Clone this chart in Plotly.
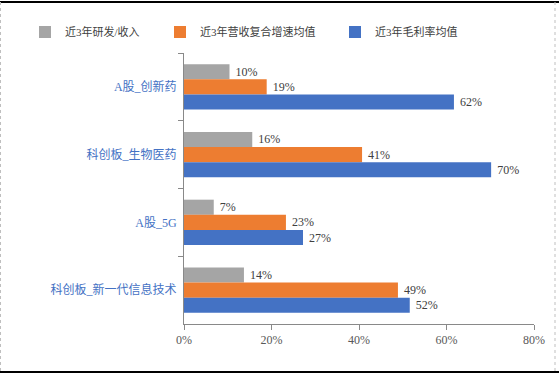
import plotly.graph_objects as go

categories = ["A股_创新药", "科创板_生物医药", "A股_5G", "科创板_新一代信息技术"]
series_names = ["近3年研发/收入", "近3年营收复合增速均值", "近3年毛利率均值"]
rd_ratio = [0.104, 0.156, 0.068, 0.137]
revenue_cagr = [0.189, 0.407, 0.233, 0.489]
gross_margin = [0.617, 0.702, 0.272, 0.516]
x_ticks = [0, 0.2, 0.4, 0.6, 0.8]
x_tick_labels = ["0%", "20%", "40%", "60%", "80%"]

colors = ["#A5A5A5", "#ED7D31", "#4472C4"]
serif = "Liberation Serif, Noto Sans CJK SC, serif"

L, R, T, B = 184, 25, 53, 52
W, H = 559, 376
pw, ph = W - L - R, H - T - B

def px(x):
    return (x - L) / pw

def py(y):
    return (H - B - y) / ph

legend_ids = ["legend", "legend2", "legend3"]
legend_x = [25, 160, 335]

fig = go.Figure()
for name, vals, col, lid in zip(series_names, [rd_ratio, revenue_cagr, gross_margin], colors, legend_ids):
    fig.add_trace(go.Bar(
        y=categories, x=vals, name=name, orientation="h", legend=lid,
        marker=dict(color=col, line=dict(width=0)),
        text=[" " + f"{round(v*100)}%" for v in vals],
        textposition="outside", cliponaxis=False,
        textfont=dict(family=serif, size=12, color="#404040"),
    ))

legend_common = dict(orientation="h", y=py(32), yanchor="middle", xanchor="left",
                     font=dict(family=serif, size=11, color="#404040"),
                     itemwidth=30, bgcolor="rgba(0,0,0,0)")
layout_legends = {lid: dict(x=px(lx), **legend_common) for lid, lx in zip(legend_ids, legend_x)}

fig.update_layout(
    width=W, height=H,
    margin=dict(l=L, r=R, t=T, b=B, autoexpand=False),
    paper_bgcolor="white", plot_bgcolor="white",
    barmode="group", bargap=0.33, bargroupgap=0,
    xaxis=dict(range=[0, 0.8], tickvals=x_ticks, ticktext=x_tick_labels,
               showgrid=False, zeroline=False, showline=True, linecolor="#898989", linewidth=1,
               ticks="outside", ticklen=5, tickcolor="#898989",
               tickfont=dict(family=serif, size=12, color="#595959")),
    yaxis=dict(autorange="reversed", showgrid=False, showline=True, linecolor="#898989", linewidth=1,
               ticks="outside", ticklen=5, tickcolor="#898989", tickson="boundaries",
               ticklabelstandoff=4,
               tickfont=dict(family=serif, size=12, color="#4472C4")),
    showlegend=True,
    **layout_legends,
)

# chart frame (top rule drawn in pixel offsets from the top of the paper)
fig.add_shape(type="line", xref="paper", yref="paper", ysizemode="pixel", yanchor=1,
              x0=px(0), x1=px(559), y0=T - 2, y1=T - 2,
              line=dict(color="black", width=2))
fig.add_shape(type="line", xref="paper", yref="paper", x0=px(0), x1=px(559),
              y0=py(372), y1=py(372), line=dict(color="black", width=2))
fig.add_shape(type="line", xref="paper", yref="paper", x0=px(0.5), x1=px(0.5),
              y0=py(2), y1=py(371), line=dict(color="#BFBFBF", width=1, dash="dot"))
fig.add_shape(type="line", xref="paper", yref="paper", x0=px(555), x1=px(555),
              y0=py(2), y1=py(371), line=dict(color="#BFBFBF", width=1, dash="dot"))

fig.write_html("out.html", config={"displayModeBar": False},
               post_script="document.body.style.margin='0';document.body.style.overflow='hidden';")
